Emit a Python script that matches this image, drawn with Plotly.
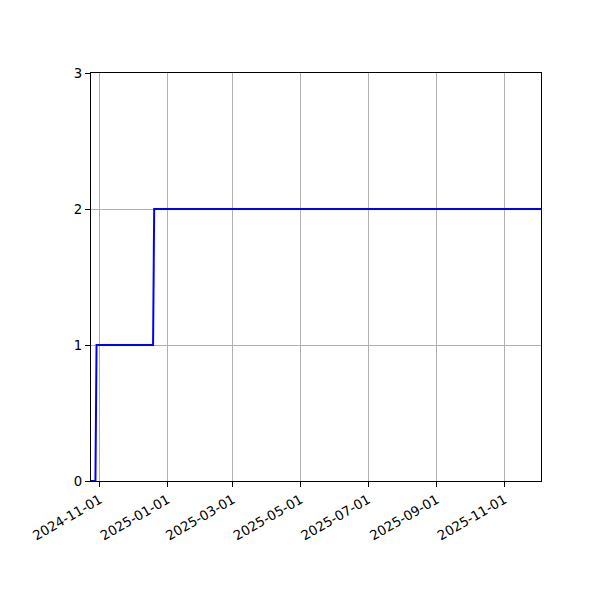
import plotly.graph_objects as go

# daily step counts
dates = ['2024-10-24', '2024-10-28', '2024-10-29', '2024-12-19', '2024-12-20', '2025-12-04']
counts = [0, 0, 1, 1, 2, 2]

tick_dates = ['2024-11-01', '2025-01-01', '2025-03-01', '2025-05-01',
              '2025-07-01', '2025-09-01', '2025-11-01']
y_ticks = [0, 1, 2, 3]

fig = go.Figure()

fig.add_trace(go.Scatter(x=dates, y=counts, mode='lines',
                         line=dict(color='blue', width=2),
                         showlegend=False))

# the page adds an 8px body margin, so the margins are shifted by that much
fig.update_layout(width=600, height=600,
                  margin=dict(l=83, r=67, t=65, b=127),
                  paper_bgcolor='white', plot_bgcolor='white',
                  font=dict(family='DejaVu Sans', size=13.3, color='black'))

fig.update_xaxes(type='date', range=[dates[0], dates[-1]],
                 tickvals=tick_dates, ticktext=tick_dates, tickangle=-30,
                 showgrid=True, gridcolor='#b0b0b0', gridwidth=1,
                 showline=True, linecolor='black', linewidth=1, mirror=True,
                 ticks='outside', ticklen=5, tickcolor='black', zeroline=False)

fig.update_yaxes(range=[0, 3], tickvals=y_ticks,
                 showgrid=True, gridcolor='#b0b0b0', gridwidth=1,
                 showline=True, linecolor='black', linewidth=1, mirror=True,
                 ticks='outside', ticklen=5, tickcolor='black', zeroline=False)

fig.write_html("out.html")
